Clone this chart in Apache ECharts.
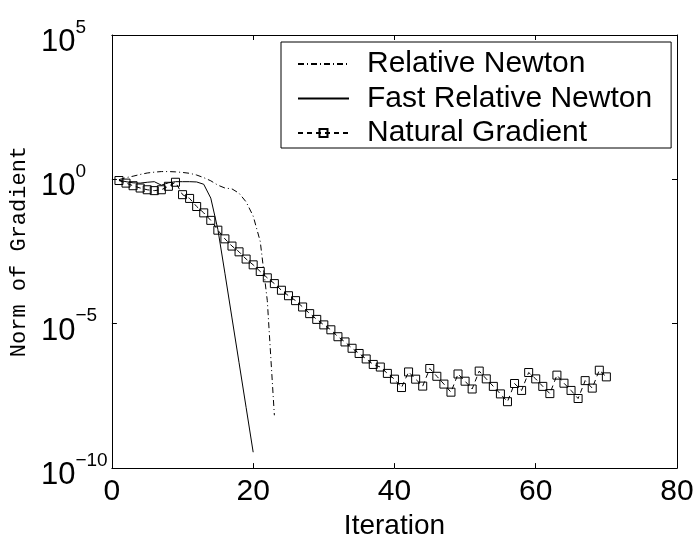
<!DOCTYPE html>
<html>
<head>
<meta charset="utf-8">
<script src="https://cdn.jsdelivr.net/npm/echarts@6/dist/echarts.min.js"></script>
<style>
html,body{margin:0;padding:0;background:#fff;}
#c{width:698px;height:545px;}
</style>
</head>
<body>
<div id="c"></div>
<script>
// Iteration numbers and log10(norm of gradient)
const relNewtonIter = [1,2,3,4,5,6,7,8,9,10,11,12,13,14,15,16,17,18,19,20,21,22,23];
const relNewtonLog = [-0.01,0.06,0.11,0.17,0.22,0.25,0.27,0.27,0.26,0.24,0.21,0.15,0.06,-0.05,-0.20,-0.30,-0.33,-0.48,-0.78,-1.27,-2.15,-4.20,-8.17];

const fastNewtonIter = [1,2,3,4,5,6,7,8,9,10,11,12,13,14,15,16,17,18,19,20];
const fastNewtonLog = [-0.03,-0.08,-0.12,-0.13,-0.10,-0.08,-0.20,-0.12,-0.08,-0.08,-0.08,-0.09,-0.17,-0.65,-1.73,-3.25,-4.80,-6.35,-7.90,-9.45];

const natGradIter = [];
for (let i = 1; i <= 70; i++) natGradIter.push(i);
const natGradLog = [
  -0.04,-0.13,-0.22,-0.30,-0.36,-0.39,-0.36,-0.24,-0.10,-0.53,
  -0.66,-0.94,-1.16,-1.42,-1.76,-2.06,-2.31,-2.51,-2.76,-2.96,
  -3.19,-3.41,-3.61,-3.84,-4.03,-4.20,-4.42,-4.65,-4.85,-5.04,
  -5.21,-5.45,-5.63,-5.85,-6.03,-6.22,-6.41,-6.50,-6.72,-6.92,
  -7.21,-6.67,-6.92,-7.16,-6.55,-6.82,-7.09,-7.37,-6.74,-6.99,
  -7.26,-6.64,-6.91,-7.17,-7.43,-7.70,-7.07,-7.31,-6.69,-6.91,
  -7.17,-7.42,-6.78,-7.06,-7.31,-7.59,-6.97,-7.23,-6.61,-6.84
];

const seriesNames = ['Relative Newton', 'Fast Relative Newton', 'Natural Gradient'];
const xTicks = [0, 20, 40, 60, 80];
const yTickExponents = [-10, -5, 0, 5];

function pairs(xs, ys) { return xs.map((x, i) => [x, ys[i]]); }

const chart = echarts.init(document.getElementById('c'), null, {renderer: 'canvas'});
const SANS = 'Liberation Sans, Arial, Helvetica, sans-serif';
const NOFILL = 'rgba(255,255,255,0)';

const option = {
  backgroundColor: '#fff',
  animation: false,
  grid: {left: 111, right: 21, top: 35, bottom: 63, containLabel: false},
  legend: {
    orient: 'vertical',
    left: 281, top: 42,
    data: seriesNames,
    itemWidth: 51, itemHeight: 10, itemGap: 4.5,
    padding: [7, 19, 0, 16],
    borderColor: '#000', borderWidth: 1, backgroundColor: '#fff',
    textStyle: {fontFamily: SANS, fontSize: 30, color: '#000', padding: [0, 0, 0, 13]}
  },
  xAxis: [{
    type: 'value', min: xTicks[0], max: xTicks[xTicks.length - 1], interval: 20,
    name: 'Iteration', nameLocation: 'middle', nameGap: 36,
    nameTextStyle: {fontFamily: SANS, fontSize: 28, color: '#000'},
    axisLine: {onZero: false, lineStyle: {color: '#000', width: 1}},
    axisTick: {inside: true, length: 5, lineStyle: {color: '#000'}},
    axisLabel: {fontFamily: SANS, fontSize: 30, color: '#000', margin: 9},
    splitLine: {show: false}
  }, {
    type: 'value', position: 'top', min: 0, max: 80, interval: 20,
    axisLine: {onZero: false, lineStyle: {color: '#000', width: 1}},
    axisTick: {inside: true, length: 5, lineStyle: {color: '#000'}},
    axisLabel: {show: false}, splitLine: {show: false}
  }],
  yAxis: [{
    type: 'value', min: yTickExponents[0], max: yTickExponents[yTickExponents.length - 1], interval: 5,
    name: 'Norm of Gradient', nameLocation: 'middle', nameGap: 74,
    nameTextStyle: {fontFamily: 'Liberation Mono, Courier New, monospace', fontSize: 22, color: '#000'},
    axisLine: {onZero: false, lineStyle: {color: '#000', width: 1}},
    axisTick: {inside: true, length: 5, lineStyle: {color: '#000'}},
    axisLabel: {
      align: 'left', margin: 71, padding: [6, 0, 0, 0],
      formatter: v => '{b|10}{s|' + (v < 0 ? '\u2212' + Math.abs(v) : v) + '}',
      rich: {
        b: {fontFamily: SANS, fontSize: 31, color: '#000', lineHeight: 40, verticalAlign: 'bottom'},
        s: {fontFamily: SANS, fontSize: 19, color: '#000', lineHeight: 14, verticalAlign: 'top'}
      }
    },
    splitLine: {show: false}
  }, {
    type: 'value', position: 'right', min: -10, max: 5, interval: 5,
    axisLine: {onZero: false, lineStyle: {color: '#000', width: 1}},
    axisTick: {inside: true, length: 5, lineStyle: {color: '#000'}},
    axisLabel: {show: false}, splitLine: {show: false}
  }],
  series: [{
    name: seriesNames[0], type: 'line', xAxisIndex: 0, yAxisIndex: 0,
    data: pairs(relNewtonIter, relNewtonLog),
    symbol: 'none',
    lineStyle: {color: '#000', width: 1, type: [6, 3, 1, 3]},
    itemStyle: {color: NOFILL, borderWidth: 0}
  }, {
    name: seriesNames[1], type: 'line', xAxisIndex: 0, yAxisIndex: 0,
    data: pairs(fastNewtonIter, fastNewtonLog),
    symbol: 'none',
    lineStyle: {color: '#000', width: 1, type: 'solid'},
    itemStyle: {color: NOFILL, borderWidth: 0}
  }, {
    name: seriesNames[2], type: 'line', xAxisIndex: 0, yAxisIndex: 0,
    data: pairs(natGradIter, natGradLog),
    symbol: 'rect', symbolSize: 8, showAllSymbol: true,
    lineStyle: {color: '#000', width: 1, type: [5, 4]},
    itemStyle: {color: NOFILL, borderColor: '#000', borderWidth: 1}
  }]
};
chart.setOption(option);
</script>
</body>
</html>
